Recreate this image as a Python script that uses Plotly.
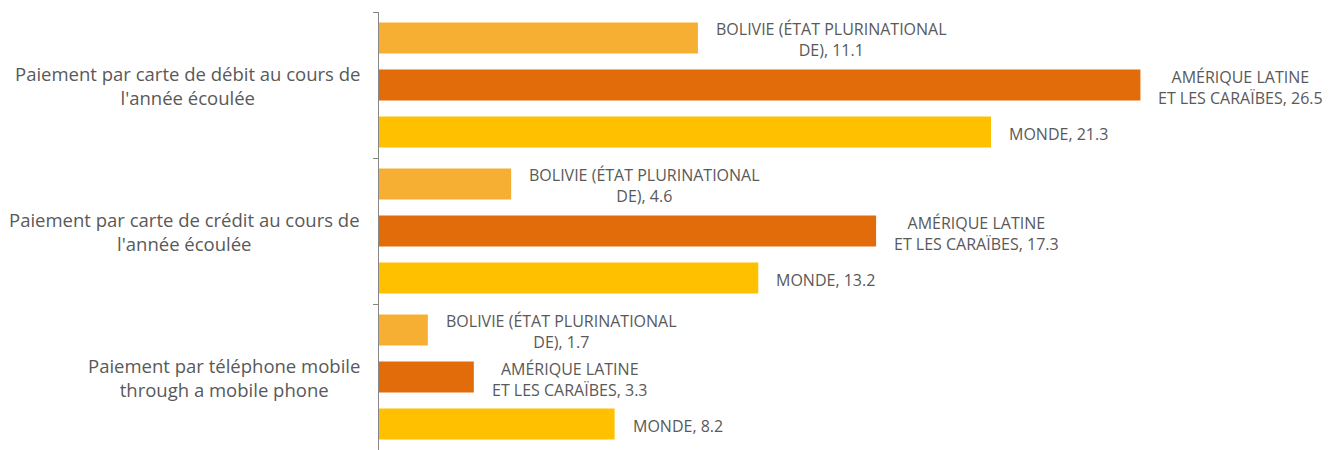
import plotly.graph_objects as go

categories = [
    "Paiement par carte de débit au cours de<br>l'année écoulée",
    "Paiement par carte de crédit au cours de<br>l'année écoulée",
    "Paiement par téléphone mobile<br>through a mobile phone",
]
series_names = ["BOLIVIE (ÉTAT PLURINATIONAL<br>DE)", "AMÉRIQUE LATINE<br>ET LES CARAÏBES", "MONDE"]
bolivie = [11.1, 4.6, 1.7]
amerique = [26.5, 17.3, 3.3]
monde = [21.3, 13.2, 8.2]
colors = ["#F7AF33", "#E36C0A", "#FFC000"]

TXT = "#595959"
FONT = "Open Sans"

fig = go.Figure()
all_vals = [bolivie, amerique, monde]
for name, vals, col in zip(series_names, all_vals, colors):
    fig.add_trace(go.Bar(
        y=list(range(len(categories))), x=vals, orientation="h", name=name,
        marker=dict(color=col, line=dict(width=0)), hoverinfo="x",
    ))

BARGAP = 0.034
BGG = 0.34
slot = (1 - BARGAP) / 3
annotations = []
for k, (name, vals) in enumerate(zip(series_names, all_vals)):
    off = (k - 1) * slot
    for i, v in enumerate(vals):
        annotations.append(dict(
            x=v, y=i + off, xref="x", yref="y", xanchor="left", yanchor="middle",
            xshift=16, yshift=-2, text=f"{name}, {v}", showarrow=False, align="center",
            font=dict(family=FONT, size=16, color=TXT),
        ))
for i, c in enumerate(categories):
    annotations.append(dict(
        x=0, y=i, xref="paper", yref="y", xanchor="right", yanchor="middle",
        xshift=-17, text=c, showarrow=False, align="center",
        font=dict(family=FONT, size=18.5, color=TXT),
    ))

# page body has an 8px margin, so the figure is sized to fit the 1335x450 window
fig.update_layout(
    width=1327, height=442,
    margin=dict(l=371, r=94, t=4, b=0, autoexpand=False),
    barmode="group", bargap=BARGAP, bargroupgap=BGG,
    plot_bgcolor="white", paper_bgcolor="white",
    showlegend=False,
    annotations=annotations,
    font=dict(family=FONT, color=TXT),
)
fig.update_xaxes(range=[0, 30], visible=False, showgrid=False, zeroline=False)
fig.update_yaxes(
    autorange=False, range=[2.5, -0.5], showgrid=False, zeroline=False,
    showline=True, linecolor="#868686", linewidth=1.3,
    tickmode="array", tickvals=[-0.5, 0.5, 1.5, 2.5], ticktext=["", "", "", ""],
    ticks="outside", ticklen=5, tickcolor="#868686", tickwidth=1.3,
    showticklabels=False,
)

fig.write_html("out.html")
